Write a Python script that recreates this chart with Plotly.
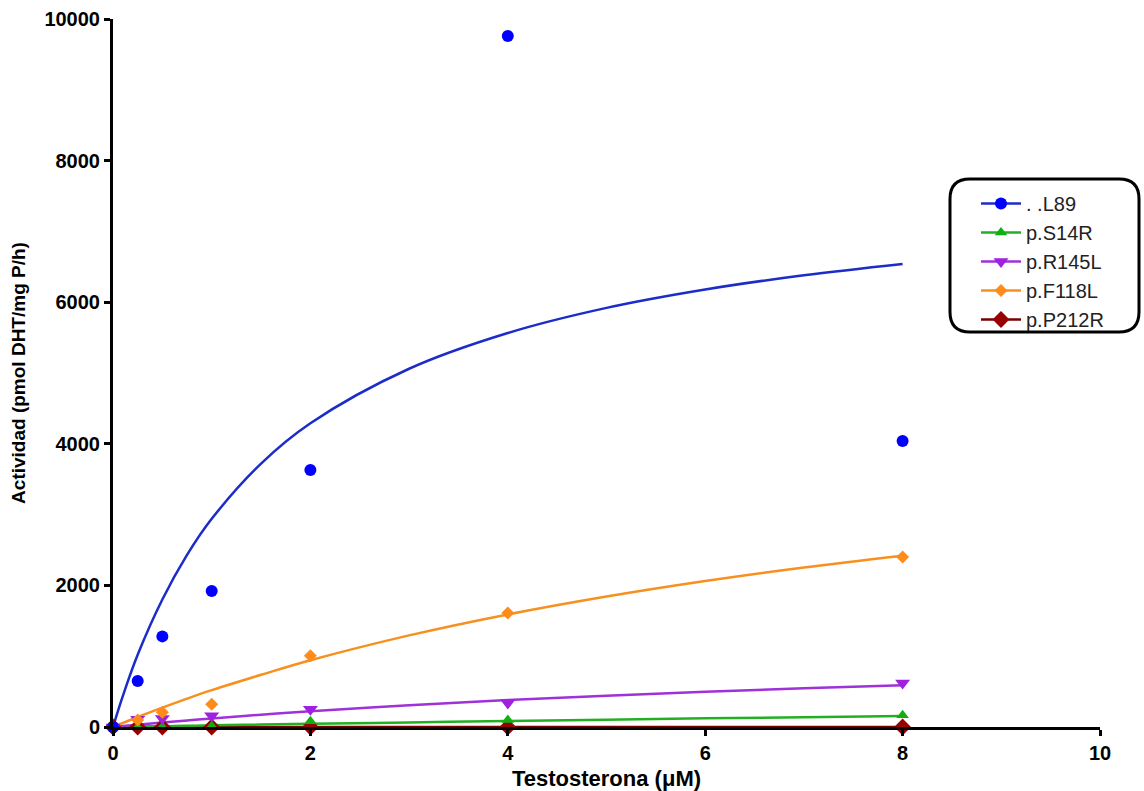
import plotly.graph_objects as go

# ---------------- data ----------------
conc = [0, 0.25, 0.5, 1, 2, 4, 8]

l89 = [0, 650, 1280, 1920, 3630, 9760, 4040]
s14r = [0, 0, 0, 10, 80, 100, 165]
r145l = [0, 110, 120, 160, 250, 340, 620]
f118l = [0, 100, 210, 320, 1005, 1610, 2400]
p212r = [0, 0, 0, 0, 0, 0, 0]

# fitted curves
fit_x = [0, 0.1, 0.25, 0.5, 0.75, 1, 1.5, 2, 3, 4, 5, 6, 7, 8]
l89_fit = [0, 440, 1020, 1800, 2430, 2940, 3720, 4290, 5060, 5565, 5920, 6180, 6380, 6540]
s14r_fit = [0, 3, 6, 12, 17, 23, 34, 45, 65, 85, 104, 122, 139, 155]
r145l_fit = [0, 13, 32, 63, 92, 121, 173, 222, 307, 380, 443, 498, 547, 590]
f118l_fit = [0, 57, 141, 274, 400, 520, 737, 943, 1294, 1590, 1843, 2062, 2254, 2420]
p212r_fit = [0] * len(fit_x)

x_ticks = [0, 2, 4, 6, 8, 10]
y_ticks = [0, 2000, 4000, 6000, 8000, 10000]
y_tick_text = ["0", "2000", "4000", "6000", "8000", "10000"]

names = [". .L89", "p.S14R", "p.R145L", "p.F118L", "p.P212R"]
points = [l89, s14r, r145l, f118l, p212r]
fits = [l89_fit, s14r_fit, r145l_fit, f118l_fit, p212r_fit]
marker_colors = ["#0000ff", "#11b011", "#a020e0", "#ff8c1a", "#990000"]
line_colors = ["#1c2cc8", "#22b022", "#a030d8", "#f7901e", "#7a0000"]
symbols = ["circle", "triangle-up", "triangle-down", "diamond", "diamond"]
sizes = [12, 11, 13, 10, 13]

FONT = "Arial, 'Liberation Sans', sans-serif"

fig = go.Figure()

for i in [4, 1, 2, 3, 0]:
    fig.add_trace(go.Scatter(
        x=fit_x, y=fits[i], mode="lines", line=dict(color=line_colors[i], width=2.5, shape="spline"),
        showlegend=False, hoverinfo="skip", cliponaxis=False))
for i in [4, 1, 2, 3, 0]:
    fig.add_trace(go.Scatter(
        x=conc, y=points[i], mode="markers",
        marker=dict(color=marker_colors[i], symbol=symbols[i], size=sizes[i]),
        showlegend=False, cliponaxis=False))

# legend entries (line + marker), in reference order
for i in range(5):
    fig.add_trace(go.Scatter(
        x=[None], y=[None], mode="lines+markers", name=names[i],
        line=dict(color=line_colors[i], width=2.5),
        marker=dict(color=marker_colors[i], symbol=symbols[i], size=sizes[i])))

# plot area in pixels
L, R, T, B = 113, 1100, 19, 727
W, H = 1144, 791


def px2paper(px, py):
    return (px - L) / (R - L), (B - py) / (B - T)


def P(px, py):
    x, y = px2paper(px, py)
    return f"{x:.5f},{y:.5f}"


# rounded legend box
bx0, by0, bx1, by1, rad = 950, 179, 1139, 332, 20
path = (f"M {P(bx0 + rad, by0)} L {P(bx1 - rad, by0)} "
        f"Q {P(bx1, by0)} {P(bx1, by0 + rad)} L {P(bx1, by1 - rad)} "
        f"Q {P(bx1, by1)} {P(bx1 - rad, by1)} L {P(bx0 + rad, by1)} "
        f"Q {P(bx0, by1)} {P(bx0, by1 - rad)} L {P(bx0, by0 + rad)} "
        f"Q {P(bx0, by0)} {P(bx0 + rad, by0)} Z")
fig.add_shape(type="path", path=path, xref="paper", yref="paper",
              line=dict(color="black", width=3), fillcolor="rgba(0,0,0,0)")

lx, ly = px2paper(976, 184)

fig.update_layout(
    width=W, height=H,
    margin=dict(l=L, r=W - R, t=T, b=H - B),
    paper_bgcolor="white", plot_bgcolor="white",
    font=dict(family=FONT, color="black"),
    showlegend=True,
    legend=dict(x=lx, y=ly, xanchor="left", yanchor="top",
                bgcolor="rgba(0,0,0,0)", borderwidth=0,
                font=dict(size=20, family=FONT, color="#222"),
                itemwidth=40),
    xaxis=dict(range=[0, 10], tickvals=x_ticks, automargin=False,
               showgrid=False, zeroline=False, showline=True,
               linecolor="black", linewidth=3, ticks="outside", ticklen=6,
               tickwidth=3, tickcolor="black",
               tickfont=dict(size=20, family=FONT, weight="bold"),
               title=dict(text="<b>Testosterona (μM)</b>", font=dict(size=22, family=FONT), standoff=10)),
    yaxis=dict(range=[0, 10000], tickvals=y_ticks, ticktext=y_tick_text, automargin=False,
               showgrid=False, zeroline=False, showline=True,
               linecolor="black", linewidth=3, ticks="outside", ticklen=6,
               tickwidth=3, tickcolor="black",
               tickfont=dict(size=20, family=FONT, weight="bold"),
               title=dict(text="<b>Actividad (pmol DHT/mg P/h)</b>", font=dict(size=19, family=FONT), standoff=14)),
)

fig.write_html("out.html")
